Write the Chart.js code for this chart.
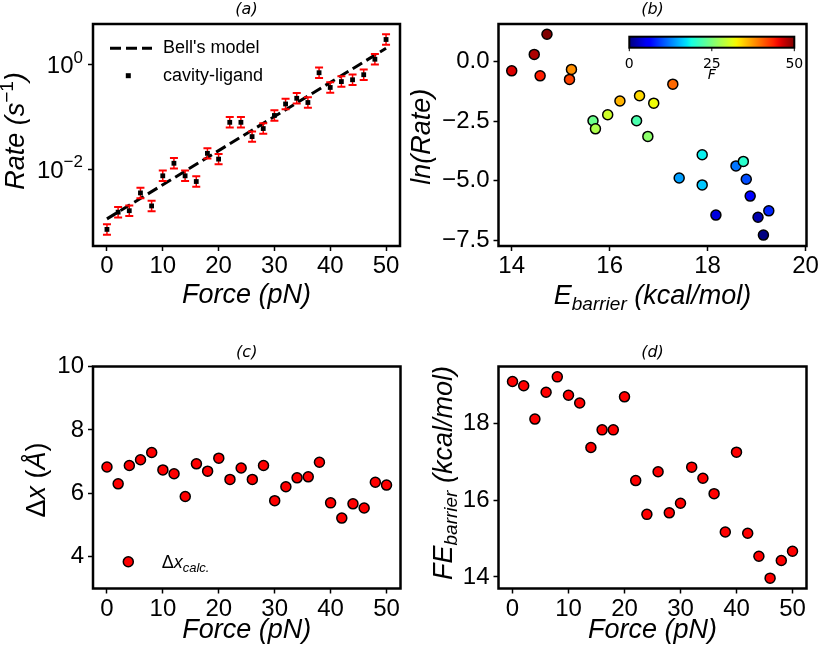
<!DOCTYPE html>
<html>
<head>
<meta charset="utf-8">
<script src="https://cdn.jsdelivr.net/npm/chart.js@4.4.1/dist/chart.umd.min.js"></script>
<style>
  body { margin: 0; background: #fff; }
  #wrap { position: relative; width: 819px; height: 651px; }
  canvas { position: absolute; }
</style>
</head>
<body>
<div id="wrap">
  <canvas id="pa" width="410" height="325" style="left:0;top:0"></canvas>
  <canvas id="pb" width="409" height="325" style="left:410px;top:0"></canvas>
  <canvas id="pc" width="410" height="326" style="left:0;top:325px"></canvas>
  <canvas id="pd" width="409" height="326" style="left:410px;top:325px"></canvas>
</div>
<script>
// ---- data ----
const forces = [0, 2, 4, 6, 8, 10, 12, 14, 16, 18, 20, 22, 24, 26, 28, 30, 32, 34, 36, 38, 40, 42, 44, 46, 48, 50];

// (a) rate (1/s), cavity-ligand, with multiplicative error
const rates = [6.9e-4, 1.48e-3, 1.58e-3, 3.47e-3, 1.95e-3, 7.4e-3, 1.29e-2, 7.4e-3, 5.75e-3, 2.0e-2,
  1.55e-2, 7.9e-2, 7.9e-2, 4.2e-2, 6.0e-2, 0.107, 0.178, 0.229, 0.19, 0.71,
  0.37, 0.48, 0.52, 0.65, 1.29, 3.09];
const rateErr = [1.26, 1.26, 1.26, 1.26, 1.26, 1.26, 1.26, 1.26, 1.26, 1.26, 1.26, 1.26, 1.26,
  1.26, 1.26, 1.26, 1.26, 1.26, 1.26, 1.26, 1.26, 1.26, 1.26, 1.26, 1.26, 1.26];
const bellForce = [0, 50];
const bellRate = [1.1e-3, 2.09];

// (b) barrier energy vs ln(rate), coloured by force
const barrierB = [19.14, 19.03, 18.17, 18.87, 19.25, 18.79, 18.58, 17.42, 17.89, 17.89,
  18.73, 16.55, 15.66, 16.78, 15.71, 15.96, 16.90, 16.61, 16.21, 15.22,
  17.29, 15.18, 14.58, 14.00, 14.46, 14.72];
const lnRateB = [-7.29, -6.54, -6.45, -5.65, -6.27, -4.94, -4.38, -4.89, -5.18, -3.91,
  -4.19, -2.48, -2.48, -3.14, -2.82, -2.23, -1.74, -1.43, -1.65, -0.32,
  -0.94, -0.74, -0.59, -0.38, 0.31, 1.16];

// (c) delta x
const deltaX = [6.83, 6.30, 6.88, 7.06, 7.29, 6.74, 6.62, 5.90, 6.93, 6.70, 7.11, 6.44, 6.80,
  6.44, 6.88, 5.77, 6.21, 6.49, 6.52, 6.98, 5.70, 5.22, 5.67, 5.54, 6.35, 6.26];

// (d) free energy barrier
const feBarrier = [19.09, 18.98, 18.11, 18.81, 19.21, 18.73, 18.53, 17.37, 17.83, 17.83,
  18.69, 16.51, 15.63, 16.74, 15.67, 15.92, 16.86, 16.57, 16.17, 15.17,
  17.25, 15.14, 14.54, 13.97, 14.43, 14.67];

// ticks
const forceTicks = [0, 10, 20, 30, 40, 50];
const rateTicks = [1e-2, 1];
const rateTickExp = ['−2', '0'];
const energyTicks = [14, 16, 18, 20];
const lnRateTicks = [-7.5, -5, -2.5, 0];
const dxTicks = [4, 6, 8, 10];
const feTicks = [14, 16, 18];
const cbarTicks = [0, 25, 50];

const FONT = "'Liberation Sans', Arial, sans-serif";
const DEJAVU = "'DejaVu Sans', sans-serif";
const TICK = 24;
const LABEL = 27;
Chart.defaults.font.family = FONT;
Chart.defaults.color = '#000';
Chart.defaults.animation = false;

// matplotlib jet colormap segments
const JET = {
  r: [[0, 0], [0.35, 0], [0.66, 1], [0.89, 1], [1, 0.5]],
  g: [[0, 0], [0.125, 0], [0.375, 1], [0.64, 1], [0.91, 0], [1, 0]],
  b: [[0, 0.5], [0.11, 1], [0.34, 1], [0.65, 0], [1, 0]]
};
function seg(pts, t) {
  for (let i = 1; i < pts.length; i++) {
    if (t <= pts[i][0]) {
      const [x0, y0] = pts[i - 1], [x1, y1] = pts[i];
      return y0 + (y1 - y0) * (t - x0) / (x1 - x0);
    }
  }
  return pts[pts.length - 1][1];
}
function jet(t) {
  const c = k => Math.round(255 * seg(JET[k], t));
  return `rgb(${c('r')},${c('g')},${c('b')})`;
}

function minus(s) { return String(s).replace('-', '−'); }

// text made of plain / italic / sub / sup pieces
function richText(ctx, parts, x, y, size, rotate, align) {
  ctx.save();
  ctx.translate(x, y);
  if (rotate) ctx.rotate(-Math.PI / 2);
  const fontOf = p => (p.it ? 'italic ' : '') + ((p.sub || p.sup) ? Math.round(size * 0.7) : size) + 'px ' + (p.family || FONT);
  let total = 0;
  const widths = parts.map(p => {
    ctx.font = fontOf(p);
    const w = ctx.measureText(p.t).width;
    total += w;
    return w;
  });
  let cx = align === 'right' ? -total : align === 'left' ? 0 : -total / 2;
  ctx.textAlign = 'left';
  ctx.textBaseline = 'alphabetic';
  ctx.fillStyle = '#000';
  parts.forEach((p, i) => {
    ctx.font = fontOf(p);
    const dy = p.sub ? size * 0.22 : p.sup ? -size * 0.42 : 0;
    ctx.fillText(p.t, cx, dy);
    cx += widths[i];
  });
  ctx.restore();
}

function axis(o) {
  return {
    type: o.type || 'linear',
    min: o.min,
    max: o.max,
    bounds: 'data',
    afterBuildTicks: s => { s.ticks = o.ticks.map(v => ({ value: v })); },
    afterFit: s => {
      if (o.horizontal) s.height = o.size; else s.width = o.size;
      s.paddingLeft = 0; s.paddingRight = 0; s.paddingTop = 0; s.paddingBottom = 0;
    },
    grid: { drawOnChartArea: false, drawTicks: true, tickLength: 5, tickWidth: 1.5, tickColor: '#000' },
    border: { display: false },
    ticks: {
      font: { size: TICK }, color: '#000', padding: o.horizontal ? 1 : 4,
      maxRotation: 0, autoSkip: false,
      callback: o.label || (v => minus(v))
    }
  };
}

// decorations per panel
const decorations = {
  pa: {
    title: '(a)', xTitleY: 57, yTitleX: 69, yTitleMid: 131,
    xTitle: [{ t: 'Force (pN)', it: true }],
    yTitle: [{ t: 'Rate (s', it: true }, { t: '−1', sup: true }, { t: ')', it: true }]
  },
  pb: {
    title: '(b)', xTitleY: 58, yTitleX: 68.5, yTitleMid: 136.7,
    xTitle: [{ t: 'E', it: true }, { t: 'barrier', it: true, sub: true }, { t: ' (kcal/mol)', it: true }],
    yTitle: [{ t: 'ln(Rate)', it: true }]
  },
  pc: {
    title: '(c)', xTitleY: 49, yTitleX: 48, yTitleMid: 480,
    xTitle: [{ t: 'Force (pN)', it: true }],
    yTitle: [{ t: 'Δ' }, { t: 'x', it: true }, { t: ' (' }, { t: 'Å', it: true }, { t: ')' }]
  },
  pd: {
    title: '(d)', xTitleY: 49, yTitleX: 47, yTitleMid: 473,
    xTitle: [{ t: 'Force (pN)', it: true }],
    yTitle: [{ t: 'FE', it: true }, { t: 'barrier', it: true, sub: true }, { t: ' (kcal/mol)', it: true }]
  }
};

const deco = {
  id: 'deco',
  beforeDatasetDraw(chart, args) {
    if (chart.canvas.id !== 'pa' || args.index !== 1) return;
    const ctx = chart.ctx, meta = chart.getDatasetMeta(1), ys = chart.scales.y;
    ctx.save();
    ctx.strokeStyle = '#ff0000';
    meta.data.forEach((pt, i) => {
      const hi = ys.getPixelForValue(rates[i] * rateErr[i]);
      const lo = ys.getPixelForValue(rates[i] / rateErr[i]);
      ctx.lineWidth = 1.5;
      ctx.beginPath(); ctx.moveTo(pt.x, hi); ctx.lineTo(pt.x, lo); ctx.stroke();
      ctx.lineWidth = 2;
      ctx.beginPath();
      ctx.moveTo(pt.x - 4, hi); ctx.lineTo(pt.x + 4, hi);
      ctx.moveTo(pt.x - 4, lo); ctx.lineTo(pt.x + 4, lo);
      ctx.stroke();
    });
    ctx.restore();
  },
  afterDraw(chart) {
    const d = decorations[chart.canvas.id];
    const ctx = chart.ctx, a = chart.chartArea;
    const top = chart.canvas.offsetTop;
    ctx.save();
    ctx.strokeStyle = '#000';
    ctx.lineWidth = 2.5;
    ctx.strokeRect(a.left, a.top, a.right - a.left, a.bottom - a.top);

    ctx.font = 'italic 16px ' + DEJAVU;
    ctx.textAlign = 'center';
    ctx.textBaseline = 'alphabetic';
    ctx.fillStyle = '#000';
    ctx.fillText(d.title, (a.left + a.right) / 2, a.top - 10);

    richText(ctx, d.xTitle, (a.left + a.right) / 2, a.bottom + d.xTitleY, LABEL, false, 'center');
    richText(ctx, d.yTitle, a.left - d.yTitleX, d.yTitleMid - top, LABEL, true, 'center');

    if (chart.canvas.id === 'pa') {
      // log tick labels with superscripts
      const ys = chart.scales.y;
      rateTicks.forEach((v, i) => {
        richText(ctx, [{ t: '10' }, { t: rateTickExp[i], sup: true }], a.left - 10, ys.getPixelForValue(v) + 8.5, TICK, false, 'right');
      });
      // legend
      const r1 = a.top + 24.3, r2 = a.top + 51.7;
      ctx.strokeStyle = '#000'; ctx.lineWidth = 3; ctx.setLineDash([11, 5]);
      ctx.beginPath(); ctx.moveTo(a.left + 17, r1); ctx.lineTo(a.left + 59, r1); ctx.stroke();
      ctx.setLineDash([]);
      ctx.fillStyle = '#000';
      ctx.fillRect(a.left + 35.3 - 2.5, r2 - 2.5, 5, 5);
      ctx.font = '18px ' + FONT; ctx.textAlign = 'left'; ctx.textBaseline = 'middle';
      ctx.fillText("Bell's model", a.left + 70, r1);
      ctx.fillText('cavity-ligand', a.left + 70, r2);
    }
    if (chart.canvas.id === 'pb') {
      // colour bar
      const x0 = a.right - 177.2, x1 = a.right - 12.2, y0 = a.top + 12.7, y1 = a.top + 23.7;
      const g = ctx.createLinearGradient(x0, 0, x1, 0);
      for (let k = 0; k <= 40; k++) g.addColorStop(k / 40, jet(k / 40));
      ctx.fillStyle = g;
      ctx.fillRect(x0, y0, x1 - x0, y1 - y0);
      ctx.lineWidth = 2; ctx.strokeStyle = '#000';
      ctx.strokeRect(x0, y0, x1 - x0, y1 - y0);
      ctx.lineWidth = 1;
      ctx.fillStyle = '#000';
      ctx.font = '14px ' + DEJAVU; ctx.textAlign = 'center'; ctx.textBaseline = 'middle';
      cbarTicks.forEach(v => {
        const x = x0 + (v / 50) * (x1 - x0);
        ctx.beginPath(); ctx.moveTo(x, y1); ctx.lineTo(x, y1 + 3.5); ctx.stroke();
        ctx.fillText(String(v), x, y1 + 16.6);
      });
      ctx.font = 'italic 14px ' + DEJAVU;
      ctx.fillText('F', (x0 + x1) / 2, y1 + 27.3);
    }
    if (chart.canvas.id === 'pc') {
      const ly = a.bottom - 26.8;
      ctx.beginPath(); ctx.arc(a.left + 35.3, ly, 5, 0, Math.PI * 2);
      ctx.fillStyle = '#ff0000'; ctx.fill();
      ctx.lineWidth = 1.5; ctx.strokeStyle = '#000'; ctx.stroke();
      richText(ctx, [{ t: 'Δ' }, { t: 'x', it: true }, { t: 'calc.', it: true, sub: true }], a.left + 68.7, ly + 6.5, 18, false, 'left');
    }
    ctx.restore();
  }
};

function scatterOpts(x, y, pad) {
  return {
    responsive: false,
    animation: false,
    layout: { padding: pad },
    plugins: { legend: { display: false }, tooltip: { enabled: false } },
    scales: { x, y }
  };
}

const redDots = { backgroundColor: '#ff0000', borderColor: '#000', borderWidth: 1.5, pointRadius: 5 };

// (a)
new Chart(document.getElementById('pa'), {
  type: 'scatter',
  data: {
    datasets: [
      {
        label: "Bell's model", type: 'line',
        data: bellForce.map((x, i) => ({ x, y: bellRate[i] })),
        borderColor: '#000', borderWidth: 3, borderDash: [11, 5], pointRadius: 0, tension: 0, fill: false, order: 2
      },
      {
        label: 'cavity-ligand',
        data: forces.map((x, i) => ({ x, y: rates[i] })),
        pointStyle: 'rect', pointRadius: 3.4, backgroundColor: '#000', borderWidth: 0, order: 1
      }
    ]
  },
  options: scatterOpts(
    axis({ min: -2.5, max: 52.5, ticks: forceTicks, horizontal: true, size: 79 }),
    axis({ type: 'logarithmic', min: 3.31e-4, max: 6.14, ticks: rateTicks, size: 93, label: () => '' }),
    { top: 24, right: 10, left: 0, bottom: 0 }
  ),
  plugins: [deco]
});

// (b)
new Chart(document.getElementById('pb'), {
  type: 'scatter',
  data: {
    datasets: [{
      label: 'ln(Rate)',
      data: barrierB.map((x, i) => ({ x, y: lnRateB[i] })),
      backgroundColor: forces.map(f => jet(f / 50)),
      borderColor: '#000', borderWidth: 1.5, pointRadius: 5
    }]
  },
  options: scatterOpts(
    axis({ min: 13.73, max: 20.02, ticks: energyTicks, horizontal: true, size: 79 }),
    axis({ min: -7.75, max: 1.59, ticks: lnRateTicks, size: 88.5, label: v => minus(v.toFixed(1)) }),
    { top: 24, right: 12.5, left: 0, bottom: 0 }
  ),
  plugins: [deco]
});

// (c)
new Chart(document.getElementById('pc'), {
  type: 'scatter',
  data: {
    datasets: [Object.assign({ label: 'Δx calc.', data: forces.map((x, i) => ({ x, y: deltaX[i] })) }, redDots)]
  },
  options: scatterOpts(
    axis({ min: -2.5, max: 52.5, ticks: forceTicks, horizontal: true, size: 62.5 }),
    axis({ min: 3, max: 10, ticks: dxTicks, size: 93 }),
    { top: 41.5, right: 9.5, left: 0, bottom: 0 }
  ),
  plugins: [deco]
});

// (d)
new Chart(document.getElementById('pd'), {
  type: 'scatter',
  data: {
    datasets: [Object.assign({ label: 'FE barrier', data: forces.map((x, i) => ({ x, y: feBarrier[i] })) }, redDots)]
  },
  options: scatterOpts(
    axis({ min: -2.5, max: 52.5, ticks: forceTicks, horizontal: true, size: 62.5 }),
    axis({ min: 13.70, max: 19.48, ticks: feTicks, size: 88.5 }),
    { top: 41.5, right: 12.5, left: 0, bottom: 0 }
  ),
  plugins: [deco]
});
</script>
</body>
</html>
